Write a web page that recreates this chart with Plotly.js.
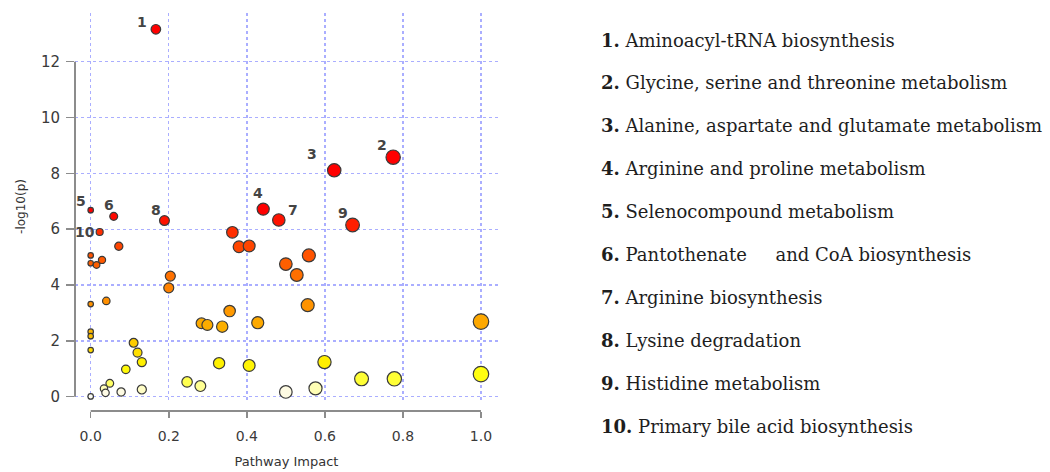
<!DOCTYPE html>
<html>
<head>
<meta charset="utf-8">
<script src="https://cdn.plot.ly/plotly-3.0.1.min.js"></script>
<style>html,body{margin:0;padding:0;background:#fff;}#chart{width:1050px;height:472px;}</style>
</head>
<body>
<div id="chart"></div>
<script>
// Pathway impact (x) and -log10(p) (y) for each pathway bubble
const impact = [
  0.167, 0.775, 0.624, 0.442, 0.000, 0.059, 0.482, 0.189, 0.671, 0.023,
  0.363, 0.072, 0.380, 0.406, 0.559, 0.000, 0.029, 0.000, 0.015, 0.500,
  0.528, 0.204, 0.200, 0.040, 0.000, 0.556, 0.356, 1.000, 0.428, 0.284,
  0.299, 0.337, 0.000, 0.000, 0.110, 0.000, 0.120, 0.131, 0.599, 0.329,
  0.406, 0.090, 1.000, 0.694, 0.778, 0.247, 0.049, 0.281, 0.576, 0.034,
  0.131, 0.078, 0.500, 0.038, 0.000
];
const negLogP = [
  13.16, 8.58, 8.11, 6.72, 6.68, 6.46, 6.33, 6.31, 6.15, 5.90,
  5.89, 5.39, 5.37, 5.40, 5.06, 5.06, 4.90, 4.78, 4.72, 4.75,
  4.36, 4.32, 3.90, 3.43, 3.32, 3.28, 3.07, 2.69, 2.65, 2.63,
  2.57, 2.51, 2.33, 2.17, 1.93, 1.67, 1.58, 1.24, 1.24, 1.20,
  1.12, 0.98, 0.81, 0.64, 0.64, 0.53, 0.48, 0.38, 0.30, 0.29,
  0.26, 0.17, 0.17, 0.14, 0.01
];
const pointLabel = ['1','2','3','4','5','6','7','8','9','10'];   // labels of the first ten points
const pathwayNames = [
  'Aminoacyl-tRNA biosynthesis',
  'Glycine, serine and threonine metabolism',
  'Alanine, aspartate and glutamate metabolism',
  'Arginine and proline metabolism',
  'Selenocompound metabolism',
  'Pantothenate\u00a0\u00a0\u00a0\u00a0 and CoA biosynthesis',
  'Arginine biosynthesis',
  'Lysine degradation',
  'Histidine metabolism',
  'Primary bile acid biosynthesis'
];
const xTicks = [0, 0.2, 0.4, 0.6, 0.8, 1.0];
const yTicks = [0, 2, 4, 6, 8, 10, 12];

// style / placement helpers (not data)
const labelShift = {
  '1': [-14, 7], '2': [-11, 12], '3': [-22, 16], '4': [-5, 16], '5': [-10, 9],
  '6': [-5, 11], '7': [14, 10], '8': [-8, 11], '9': [-10, 12], '10': [-15, 0]
};
const heat = [
  [0.00, '#fbfbf4'], [0.03, '#fffbe0'], [0.05, '#ffffa8'], [0.08, '#ffff50'],
  [0.12, '#ffff10'], [0.18, '#fff200'], [0.26, '#ffd800'], [0.36, '#fbb400'],
  [0.46, '#ff9a00'], [0.60, '#ff8000'], [0.70, '#ff6400'], [0.80, '#ff4a00'],
  [0.90, '#ff2c00'], [1.00, '#ff0000']
];

const trace = {
  type: 'scatter', mode: 'markers',
  x: impact, y: negLogP,
  hoverinfo: 'x+y',
  marker: {
    size: impact.map(v => 5.5 + 10 * Math.sqrt(v)),
    color: negLogP, colorscale: heat, cmin: 0, cmax: 6.6,
    line: { color: '#3a3a3a', width: 1.2 },
    opacity: 1
  },
  cliponaxis: false
};

const annotations = [];
pointLabel.forEach((lab, i) => {
  annotations.push({
    x: impact[i], y: negLogP[i], xref: 'x', yref: 'y',
    text: lab, showarrow: false,
    xshift: labelShift[lab][0], yshift: labelShift[lab][1],
    font: { family: 'DejaVu Sans', size: 14, color: '#444444', weight: 'bold' }
  });
});

const L = 75, T = 13, H = 398;
pathwayNames.forEach((name, i) => {
  const py = 40 + i * 42.96;
  annotations.push({
    xref: 'paper', yref: 'paper',
    x: (599 - L) / 423, y: (T + H - py) / H,
    xanchor: 'left', yanchor: 'middle', showarrow: false,
    text: '<b>' + (i + 1) + '.</b> ' + name,
    font: { family: 'DejaVu Serif', size: 18, color: '#1e1e1e' }
  });
});

const axisGray = '#8c8c8c';
const shapes = [
  { type: 'line', xref: 'paper', yref: 'y', x0: 0, x1: 0, y0: yTicks[0], y1: yTicks[yTicks.length - 1],
    line: { color: axisGray, width: 2 } },
  { type: 'line', xref: 'x', yref: 'paper', x0: xTicks[0], x1: xTicks[xTicks.length - 1], y0: 0, y1: 0,
    line: { color: axisGray, width: 2 } }
];

const gridColor = '#aaaeff';
const layout = {
  width: 1050, height: 472,
  margin: { l: L, r: 552, t: T, b: 61 },
  paper_bgcolor: '#ffffff', plot_bgcolor: '#ffffff',
  font: { family: 'DejaVu Sans', color: '#3a3a3a' },
  showlegend: false,
  xaxis: {
    range: [-0.0402, 1.0436], tickvals: xTicks, tickformat: '.1f',
    anchor: 'free', position: 0,
    showgrid: true, gridcolor: gridColor, griddash: 'dot', gridwidth: 1.4,
    zeroline: false, showline: false,
    ticks: 'outside', ticklen: 6, tickwidth: 1.5, tickcolor: axisGray,
    ticklabelstandoff: 6,
    tickfont: { size: 14, color: '#3a3a3a' },
    title: { text: 'Pathway Impact', font: { size: 13, color: '#333' }, standoff: 14 }
  },
  yaxis: {
    domain: [0.0276, 1],
    range: [-0.118, 13.744], tickvals: yTicks,
    showgrid: true, gridcolor: gridColor, griddash: 'dot', gridwidth: 1.4,
    zeroline: false, showline: false,
    ticks: 'outside', ticklen: 8, tickwidth: 1.5, tickcolor: axisGray,
    ticklabelstandoff: 3,
    tickfont: { size: 15, color: '#3a3a3a' },
    title: { text: '-log10(p)', font: { size: 12, color: '#333' }, standoff: 12 }
  },
  shapes: shapes,
  annotations: annotations
};

Plotly.newPlot('chart', [trace], layout, { displayModeBar: false, staticPlot: true });
</script>
</body>
</html>
